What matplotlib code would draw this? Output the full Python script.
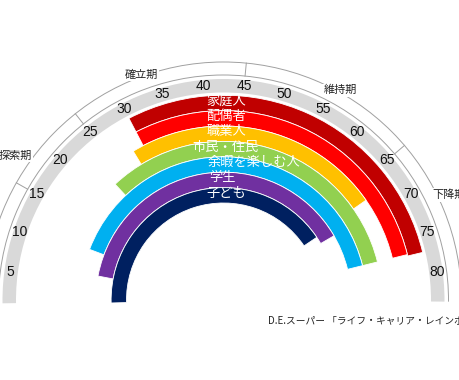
import numpy as np
import matplotlib.pyplot as plt
from matplotlib.patches import Wedge, Arc

plt.rcParams['font.family'] = ['Noto Sans CJK JP', 'DejaVu Sans']

# life roles, outermost first
roles = ["家庭人", "配偶者", "職業人", "市民・住民", "余暇を楽しむ人", "学生", "子ども"]
start_ages = [30, 30, 28.3, 22.9, 11, 6.5, 0.9]
end_ages = [77.3, 77.1, 67.5, 77.1, 77.1, 69.7, 68]
colors = ["#C00000", "#FF0000", "#FFC000", "#92D050", "#00B0F0", "#7030A0", "#002060"]

age_ticks = [5, 10, 15, 20, 25, 30, 35, 40, 45, 50, 55, 60, 65, 70, 75, 80]
life_span = [1.2, 83.6]

stages = ["探索期", "確立期", "維持期", "下降期"]
stage_label_ages = [18.4, 33.4, 55.7, 71.3]
stage_bounds = [15, 25, 45, 65]

caption = "D.E.スーパー 「ライフ・キャリア・レインボー」"


def angle(age):
    # age 0 sits on the left, old age on the right
    return 183.5 - 2.2 * np.asarray(age)


def polar(r, age):
    t = np.radians(angle(age))
    return r * np.cos(t), r * np.sin(t)


fig = plt.figure(figsize=(4.6, 3.8), dpi=100)
ax = fig.add_axes([0, 0, 1, 1])
ax.set_xlim(-223.5, 236.5)
ax.set_ylim(-80, 300)
ax.axis("off")

# grey age scale band
ax.add_patch(Wedge((0, 0), 221, angle(life_span[1]), angle(life_span[0]),
                   width=13.5, facecolor="#D9D9D9", edgecolor="none"))
for a in age_ticks:
    x, y = polar(215, a)
    ax.text(x, y, str(a), ha="center", va="center", fontsize=10,
            family=["Liberation Sans", "DejaVu Sans"], color="#111111")

# outer ring with the life stages
for r in (225, 238):
    ax.add_patch(Arc((0, 0), 2 * r, 2 * r, theta1=angle(life_span[1]),
                     theta2=angle(life_span[0]), color="#A0A0A0", lw=0.7))
for a in stage_bounds:
    x0, y0 = polar(225, a)
    x1, y1 = polar(238, a)
    ax.plot([x0, x1], [y0, y1], color="#A0A0A0", lw=0.7)
for name, a in zip(stages, stage_label_ages):
    th = angle(a)
    if th > 135:
        ha, r = "right", 240
    elif th < 45:
        ha, r = "left", 234
    else:
        ha, r = "center", 240
    x, y = polar(r, a)
    ax.text(x, y, name, ha=ha, va="center", fontsize=8, color="#222222",
            bbox=dict(facecolor="white", edgecolor="none", pad=1))

# rainbow of roles
w = 15.4
r_in = 97
n = len(roles)
for i, (name, s, e, c) in enumerate(zip(roles, start_ages, end_ages, colors)):
    r_out = r_in + w * (n - i)
    ax.add_patch(Wedge((0, 0), r_out, angle(e), angle(s), width=w,
                       facecolor=c, edgecolor="white", lw=0.6))
    dx = {"余暇を楽しむ人": 30, "学生": -1.5}.get(name, 2.5)
    ax.text(dx, r_out - w / 2 + 2, name, ha="center", va="center",
            fontsize=9.5, color="white")

ax.text(44.5, -21, caption, ha="left", va="center", fontsize=7, color="#222222")

plt.savefig("out.png", dpi=100)
